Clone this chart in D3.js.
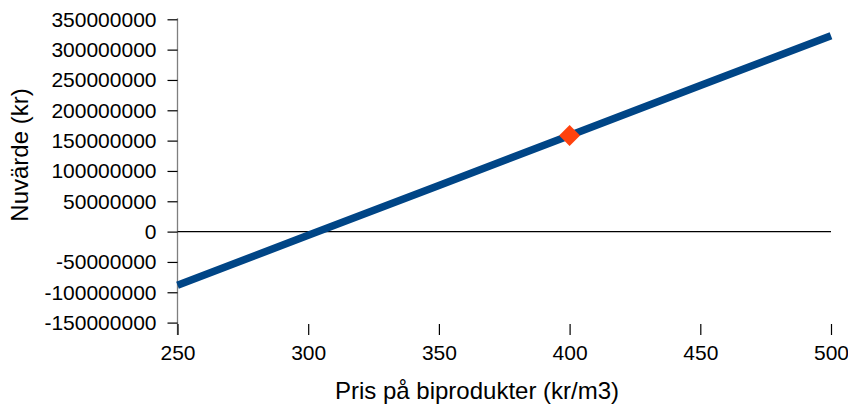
<!DOCTYPE html>
<html>
<head>
<meta charset="utf-8">
<script src="https://cdn.jsdelivr.net/npm/d3@7"></script>
<style>
  html, body { margin: 0; padding: 0; background: #fff; }
  svg { display: block; font-family: "Liberation Sans", Arial, sans-serif; }
</style>
</head>
<body>
<svg id="chart" width="848" height="405"></svg>
<script>
// Nuvärde as a function of the by-product price
const prices = [250, 300, 350, 400, 450, 500];
const npv = [-88400000, -6100000, 76200000, 158400000, 240700000, 323000000];
const markerPrice = [400];
const markerValue = [158400000];
const xTicks = [250, 300, 350, 400, 450, 500];
const yTicks = [-150000000, -100000000, -50000000, 0, 50000000, 100000000,
                150000000, 200000000, 250000000, 300000000, 350000000];

const svg = d3.select("#chart");

const x = d3.scaleLinear().domain([250, 500]).range([177.5, 831]);
const y = d3.scaleLinear().domain([-150000000, 350000000]).range([322.6, 19.3]);

const tickFont = 21;
const titleFont = 24;
const axisBottom = 335;
const plain = d => String(d); // keeps an ASCII hyphen for negatives

// vertical axis line
svg.append("line")
  .attr("x1", 177.5).attr("x2", 177.5)
  .attr("y1", y(350000000) - 1).attr("y2", axisBottom)
  .attr("stroke", "#7f7f7f").attr("stroke-width", 1.3);

// y axis ticks and labels
const yAxis = d3.axisLeft(y).tickValues(yTicks).tickSize(10).tickPadding(11)
  .tickFormat(plain);
const gy = svg.append("g").attr("transform", "translate(177.5,0)").call(yAxis);
gy.select(".domain").remove();
gy.selectAll(".tick line").attr("stroke", "#000").attr("stroke-width", 1.2);
gy.selectAll(".tick text")
  .attr("font-size", tickFont).attr("fill", "#000")
  .attr("font-family", "Liberation Sans, Arial, sans-serif");

// x axis ticks along the bottom with labels
const xAxis = d3.axisBottom(x).tickValues(xTicks).tickSize(11).tickPadding(10)
  .tickFormat(plain);
const gx = svg.append("g").attr("transform", `translate(0,${axisBottom - 11})`).call(xAxis);
gx.select(".domain").remove();
gx.selectAll(".tick line").attr("stroke", "#000").attr("stroke-width", 1.2);
gx.selectAll(".tick text")
  .attr("font-size", tickFont).attr("fill", "#000")
  .attr("font-family", "Liberation Sans, Arial, sans-serif");

// zero line
svg.append("line")
  .attr("x1", x(250)).attr("x2", x(500))
  .attr("y1", y(0)).attr("y2", y(0))
  .attr("stroke", "#000").attr("stroke-width", 1.2);

// series line
const line = d3.line().x((d, i) => x(prices[i])).y(d => y(d));
svg.append("path")
  .datum(npv)
  .attr("d", line)
  .attr("fill", "none")
  .attr("stroke", "#004586")
  .attr("stroke-width", 7.5)
  .attr("stroke-linecap", "butt");

// highlighted point
const sym = d3.symbol().type(d3.symbolDiamond2).size(280);
svg.selectAll(".marker")
  .data(markerPrice)
  .enter().append("path")
  .attr("class", "marker")
  .attr("d", sym)
  .attr("transform", (d, i) => `translate(${x(d)},${y(markerValue[i])})`)
  .attr("fill", "#ff420e");

// axis titles
svg.append("text")
  .attr("x", 477).attr("y", 399)
  .attr("text-anchor", "middle")
  .attr("font-size", titleFont)
  .text("Pris på biprodukter (kr/m3)");

svg.append("text")
  .attr("transform", "translate(28,155) rotate(-90)")
  .attr("text-anchor", "middle")
  .attr("font-size", titleFont)
  .text("Nuvärde (kr)");
</script>
</body>
</html>
